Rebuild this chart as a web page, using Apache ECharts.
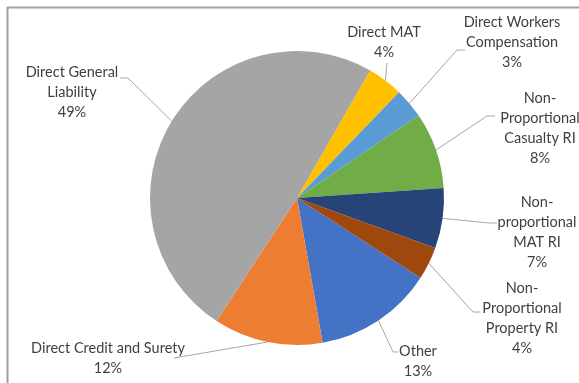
<!DOCTYPE html>
<html>
<head>
<meta charset="utf-8">
<script src="https://cdn.jsdelivr.net/npm/echarts@6/dist/echarts.min.js"></script>
<style>
  html, body { margin: 0; padding: 0; background: #fff; }
  #chart { width: 579px; height: 383px; }
</style>
</head>
<body>
<div id="chart"></div>
<script>
// Premium mix by line of business (share of total, %)
const categories = [
  'Other',
  'Direct Credit and Surety',
  'Direct General\nLiability',
  'Direct MAT',
  'Direct Workers\nCompensation',
  'Non-\nProportional\nCasualty RI',
  'Non-\nproportional\nMAT RI',
  'Non-\nProportional\nProperty RI'
];
const shares = [13.1, 12.0, 49.1, 3.9, 3.3, 8.4, 6.6, 3.6];
const sliceColors = ['#4472C4', '#ED7D31', '#A5A5A5', '#FFC000', '#5B9BD5', '#70AD47', '#264478', '#9E480E'];

// Where each label block sits, and the elbow / end of its leader line
const labelSpots = [
  { c: [418, 361], elbow: [393, 352], end: [398, 352] },
  { c: [108, 358], elbow: [174, 358], end: [174, 358] },
  { c: [72, 92],   elbow: [128, 78],  end: [120, 78] },
  { c: [384, 42],  elbow: [387, 63],  end: [387, 63] },
  { c: [512, 42],  elbow: [457, 50],  end: [465, 50] },
  { c: [540, 128], elbow: [487, 116], end: [495, 116] },
  { c: [537, 232], elbow: [489, 223], end: [497, 223] },
  { c: [522, 318], elbow: [473, 312], end: [480, 312] }
];

const chart = echarts.init(document.getElementById('chart'), null, { renderer: 'canvas' });

chart.setOption({
  animation: false,
  backgroundColor: '#ffffff',
  graphic: [
    { type: 'line', shape: { x1: 7, y1: 7.5, x2: 579, y2: 7.5 }, style: { stroke: '#a0a0a0', lineWidth: 2 }, silent: true },
    { type: 'line', shape: { x1: 7.5, y1: 7, x2: 7.5, y2: 383 }, style: { stroke: '#a0a0a0', lineWidth: 2 }, silent: true }
  ],
  series: [{
    type: 'pie',
    center: [297, 198],
    radius: 147,
    startAngle: -32.8,
    clockwise: true,
    avoidLabelOverlap: false,
    percentPrecision: 0,
    emphasis: { disabled: true },
    itemStyle: { borderWidth: 0 },
    label: {
      show: true,
      position: 'outside',
      formatter: '{b}\n{d}%',
      fontFamily: 'Lato',
      fontSize: 14.5,
      lineHeight: 20,
      color: '#3f3f3f',
      align: 'center'
    },
    labelLine: {
      show: true,
      length: 10,
      length2: 10,
      lineStyle: { color: '#a6a6a6', width: 1 }
    },
    labelLayout: function (params) {
      const spot = labelSpots[params.dataIndex];
      const start = params.labelLinePoints ? params.labelLinePoints[0] : spot.elbow;
      return {
        x: spot.c[0],
        y: spot.c[1],
        align: 'center',
        verticalAlign: 'middle',
        labelLinePoints: [start.slice(), spot.elbow.slice(), spot.end.slice()]
      };
    },
    data: categories.map((name, i) => ({
      name: name,
      value: shares[i],
      itemStyle: { color: sliceColors[i] }
    }))
  }]
});
</script>
</body>
</html>
